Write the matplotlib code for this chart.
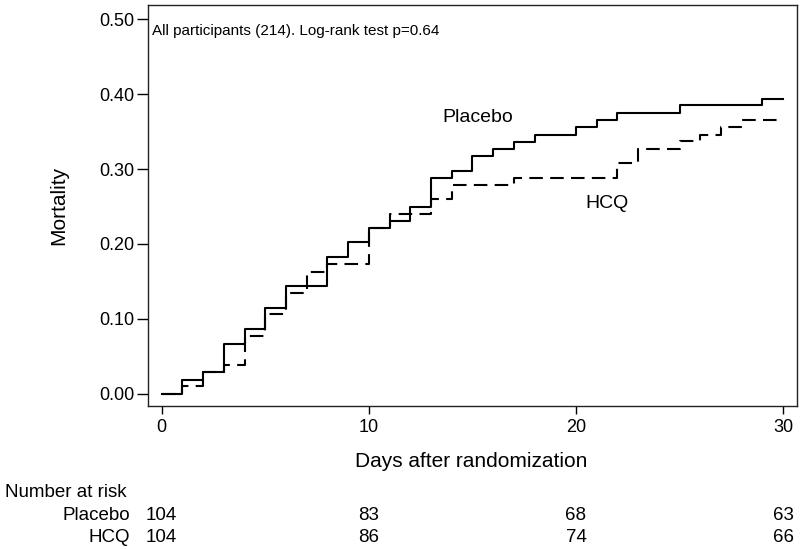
import numpy as np
from matplotlib import pyplot as plt
from matplotlib import transforms

plt.rcParams['font.family'] = ['Liberation Sans', 'DejaVu Sans']

# Kaplan-Meier style cumulative mortality
placebo_days = [0, 1, 2, 3, 4, 5, 6, 8, 9, 10, 11, 12, 13, 14, 15, 16, 17, 18, 20, 21, 22, 25, 29, 30]
placebo_mort = [0.0, 0.019, 0.029, 0.067, 0.087, 0.115, 0.144, 0.183, 0.202, 0.221, 0.231, 0.250,
                0.288, 0.298, 0.317, 0.327, 0.336, 0.346, 0.356, 0.365, 0.375, 0.385, 0.394, 0.394]
hcq_days = [0, 1, 2, 3, 4, 5, 6, 7, 8, 10, 11, 13, 14, 17, 22, 23, 25, 26, 27, 28, 30]
hcq_mort = [0.0, 0.010, 0.029, 0.038, 0.077, 0.106, 0.135, 0.163, 0.173, 0.221, 0.240, 0.260,
            0.279, 0.288, 0.308, 0.327, 0.337, 0.346, 0.356, 0.365, 0.365]

# number at risk table
risk_days = [0, 10, 20, 30]
risk_placebo = [104, 83, 68, 63]
risk_hcq = [104, 86, 74, 66]

fig = plt.figure(figsize=(8, 5.49), dpi=100)
ax = fig.add_axes([0.185, 0.2605, 0.811, 0.7304])

ax.step(placebo_days, placebo_mort, where='post', color='black', lw=1.5)
ax.step(hcq_days, hcq_mort, where='post', color='black', lw=1.5, linestyle=(0, (6.5, 3.5)))

ax.set_xlim(-0.66, 30.66)
ax.set_ylim(-0.016, 0.5187)
ax.set_xticks([0, 10, 20, 30])
ax.set_yticks(np.arange(0, 0.51, 0.1))
ax.set_yticklabels(['%.2f' % v for v in np.arange(0, 0.51, 0.1)])
ax.tick_params(axis='x', labelsize=13, length=5.8, width=1, direction='out', pad=3.4)
ax.tick_params(axis='y', labelsize=13, length=8, width=1, direction='out', pad=1.5)
for s in ax.spines.values():
    s.set_linewidth(1.0)
    s.set_color('#222222')

ax.set_ylabel('Mortality', fontsize=15)
ax.yaxis.set_label_coords(-0.1228, 0.5)
ax.set_xlabel('Days after randomization', fontsize=15)
ax.xaxis.label.set_va('baseline')
ax.xaxis.set_label_coords(0.498, -0.151)

ax.text(0.0057, 0.926, 'All participants (214). Log-rank test p=0.64', transform=ax.transAxes,
        fontsize=11, va='baseline', ha='left')
ax.text(15.24, 0.363, 'Placebo', fontsize=14, ha='center', va='baseline')
ax.text(21.48, 0.2476, 'HCQ', fontsize=14, ha='center', va='baseline')

# number at risk rows below the plot
trans = transforms.blended_transform_factory(ax.transData, fig.transFigure)
fig.text(0.006, 0.0942, 'Number at risk', fontsize=13.5, va='baseline', ha='left')
fig.text(0.1625, 0.0528, 'Placebo', fontsize=13.5, va='baseline', ha='right')
fig.text(0.1625, 0.0133, 'HCQ', fontsize=13.5, va='baseline', ha='right')
for d, p, h in zip(risk_days, risk_placebo, risk_hcq):
    ax.text(d, 0.0528, str(p), transform=trans, fontsize=13.5, va='baseline', ha='center', clip_on=False)
    ax.text(d, 0.0133, str(h), transform=trans, fontsize=13.5, va='baseline', ha='center', clip_on=False)

fig.savefig('out.png', dpi=100)
